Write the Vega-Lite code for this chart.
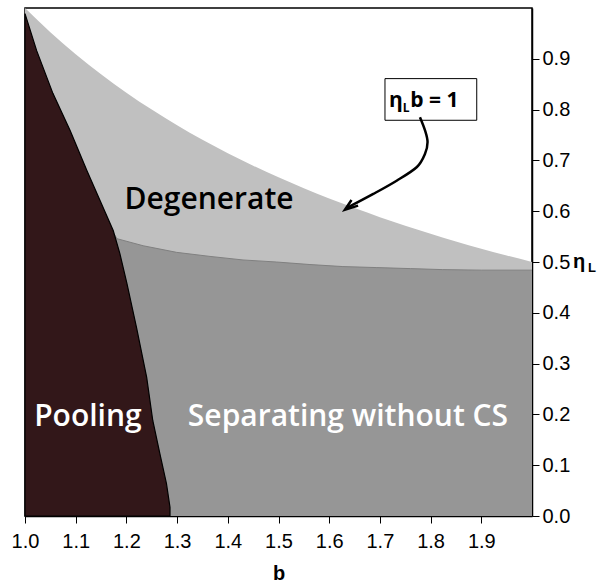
{
  "$schema": "https://vega.github.io/schema/vega-lite/v6.json",
  "width": 507,
  "height": 508,
  "autosize": "none",
  "padding": {"left": 25, "top": 8, "right": 68, "bottom": 69},
  "background": "white",
  "config": {"view": {"stroke": "black", "strokeWidth": 1.5}, "font": "Liberation Sans"},
  "datasets": {
    "upper": [
      {"b": 1.0, "eta": 1.0}, {"b": 1.05, "eta": 0.9524}, {"b": 1.1, "eta": 0.9091}, {"b": 1.15, "eta": 0.8696},
      {"b": 1.2, "eta": 0.8333}, {"b": 1.25, "eta": 0.8}, {"b": 1.3, "eta": 0.7692}, {"b": 1.35, "eta": 0.7407},
      {"b": 1.4, "eta": 0.7143}, {"b": 1.45, "eta": 0.6897}, {"b": 1.5, "eta": 0.6667}, {"b": 1.55, "eta": 0.6452},
      {"b": 1.6, "eta": 0.625}, {"b": 1.65, "eta": 0.6061}, {"b": 1.7, "eta": 0.5882}, {"b": 1.75, "eta": 0.5714},
      {"b": 1.8, "eta": 0.5556}, {"b": 1.85, "eta": 0.5405}, {"b": 1.9, "eta": 0.5263}, {"b": 1.95, "eta": 0.5128},
      {"b": 2.0, "eta": 0.5}
    ],
    "sep": [
      {"b": 1.0, "eta": 0.552}, {"b": 1.178, "eta": 0.552}, {"b": 1.181, "eta": 0.546}, {"b": 1.233, "eta": 0.532},
      {"b": 1.299, "eta": 0.519}, {"b": 1.365, "eta": 0.511}, {"b": 1.43, "eta": 0.504}, {"b": 1.496, "eta": 0.5},
      {"b": 1.562, "eta": 0.495}, {"b": 1.627, "eta": 0.491}, {"b": 1.694, "eta": 0.489}, {"b": 1.76, "eta": 0.487},
      {"b": 1.824, "eta": 0.485}, {"b": 1.9, "eta": 0.484}, {"b": 2.0, "eta": 0.484}
    ],
    "pool": [
      {"eta": 0.0, "b": 1.286}, {"eta": 0.017, "b": 1.286}, {"eta": 0.064, "b": 1.279}, {"eta": 0.123, "b": 1.266},
      {"eta": 0.188, "b": 1.252}, {"eta": 0.273, "b": 1.24}, {"eta": 0.371, "b": 1.22}, {"eta": 0.458, "b": 1.201},
      {"eta": 0.517, "b": 1.187}, {"eta": 0.562, "b": 1.174}, {"eta": 0.621, "b": 1.148}, {"eta": 0.68, "b": 1.122},
      {"eta": 0.759, "b": 1.089}, {"eta": 0.832, "b": 1.055}, {"eta": 0.916, "b": 1.023}, {"eta": 0.989, "b": 1.0}
    ],
    "arrow": [
      {"o": 0, "b": 1.779, "eta": 0.785}, {"o": 1, "b": 1.789, "eta": 0.759}, {"o": 2, "b": 1.794, "eta": 0.736},
      {"o": 3, "b": 1.789, "eta": 0.713}, {"o": 4, "b": 1.773, "eta": 0.687}, {"o": 5, "b": 1.733, "eta": 0.66},
      {"o": 6, "b": 1.687, "eta": 0.634}, {"o": 7, "b": 1.634, "eta": 0.606}
    ],
    "head": [
      {"o": 0, "b": 1.644, "eta": 0.622}, {"o": 1, "b": 1.631, "eta": 0.603}, {"o": 2, "b": 1.657, "eta": 0.611}
    ]
  },
  "layer": [
    {
      "data": {"name": "upper"},
      "mark": {"type": "area", "color": "#c0c0c0", "interpolate": "monotone"},
      "encoding": {
        "x": {
          "field": "b", "type": "quantitative",
          "scale": {"domain": [1, 2], "nice": false, "zero": false},
          "axis": {
            "values": [1.0, 1.05, 1.1, 1.15, 1.2, 1.25, 1.3, 1.35, 1.4, 1.45, 1.5, 1.55, 1.6, 1.65, 1.7, 1.75, 1.8, 1.85, 1.9, 1.95],
            "labelExpr": "round(datum.value*100) % 10 == 0 ? format(datum.value, '.1f') : ''",
            "grid": false, "tickSize": 7, "tickColor": "black", "tickWidth": 1,
            "domainColor": "black", "domainWidth": 1.5,
            "labelColor": "black", "labelFont": "Liberation Sans", "labelFontSize": 20,
            "labelPadding": 8, "labelFlush": false, "labelOverlap": false,
            "title": "b", "titleFont": "Liberation Sans", "titleFontSize": 20, "titleFontWeight": "bold",
            "titleColor": "black", "titlePadding": 12
          }
        },
        "y": {
          "field": "eta", "type": "quantitative",
          "scale": {"domain": [0, 1], "nice": false, "zero": false},
          "axis": {
            "orient": "right",
            "values": [0, 0.025, 0.05, 0.075, 0.1, 0.125, 0.15, 0.175, 0.2, 0.225, 0.25, 0.275, 0.3, 0.325, 0.35, 0.375, 0.4, 0.425, 0.45, 0.475, 0.5, 0.525, 0.55, 0.575, 0.6, 0.625, 0.65, 0.675, 0.7, 0.725, 0.75, 0.775, 0.8, 0.825, 0.85, 0.875, 0.9, 0.925, 0.95, 0.975],
            "labelExpr": "round(datum.value*1000) % 100 == 0 ? format(datum.value, '.1f') : ''",
            "grid": false, "tickSize": 7, "tickColor": "black", "tickWidth": 1,
            "domainColor": "black", "domainWidth": 1.5,
            "labelColor": "black", "labelFont": "Liberation Sans", "labelFontSize": 20,
            "labelPadding": 3, "labelFlush": false, "labelOverlap": false,
            "title": null
          }
        },
        "y2": {"datum": 0}
      }
    },
    {
      "data": {"name": "sep"},
      "mark": {"type": "area", "color": "#969696"},
      "encoding": {
        "x": {"field": "b", "type": "quantitative"},
        "y": {"field": "eta", "type": "quantitative"},
        "y2": {"datum": 0}
      }
    },
    {
      "data": {"name": "sep"},
      "mark": {"type": "line", "color": "#808080", "strokeWidth": 1},
      "encoding": {
        "x": {"field": "b", "type": "quantitative"},
        "y": {"field": "eta", "type": "quantitative"}
      }
    },
    {
      "data": {"name": "pool"},
      "mark": {"type": "area", "orient": "horizontal", "fill": "#321719", "stroke": "black", "strokeWidth": 1.2},
      "encoding": {
        "y": {"field": "eta", "type": "quantitative", "sort": null},
        "x": {"field": "b", "type": "quantitative"},
        "x2": {"datum": 1}
      }
    },
    {
      "data": {"values": [{}]},
      "mark": {"type": "rect", "fill": "white", "stroke": "black", "strokeWidth": 1},
      "encoding": {
        "x": {"datum": 1.71, "type": "quantitative"},
        "x2": {"datum": 1.891},
        "y": {"datum": 0.861, "type": "quantitative"},
        "y2": {"datum": 0.779}
      }
    },
    {
      "data": {"name": "arrow"},
      "mark": {"type": "line", "color": "black", "strokeWidth": 2.5, "interpolate": "cardinal"},
      "encoding": {
        "x": {"field": "b", "type": "quantitative"},
        "y": {"field": "eta", "type": "quantitative"},
        "order": {"field": "o"}
      }
    },
    {
      "data": {"name": "head"},
      "mark": {"type": "line", "color": "black", "strokeWidth": 2.5, "strokeJoin": "miter"},
      "encoding": {
        "x": {"field": "b", "type": "quantitative"},
        "y": {"field": "eta", "type": "quantitative"},
        "order": {"field": "o"}
      }
    },
    {
      "data": {"values": [{}]},
      "mark": {"type": "text", "text": "Degenerate", "font": "Open Sans", "fontWeight": 600, "fontSize": 30, "color": "black", "align": "center", "baseline": "alphabetic"},
      "encoding": {
        "x": {"datum": 1.363, "type": "quantitative"},
        "y": {"datum": 0.605, "type": "quantitative"}
      }
    },
    {
      "data": {"values": [{}]},
      "mark": {"type": "text", "text": "Pooling", "font": "Open Sans", "fontWeight": 600, "fontSize": 30, "color": "white", "align": "center", "baseline": "alphabetic"},
      "encoding": {
        "x": {"datum": 1.124, "type": "quantitative"},
        "y": {"datum": 0.178, "type": "quantitative"}
      }
    },
    {
      "data": {"values": [{}]},
      "mark": {"type": "text", "text": "Separating without CS", "font": "Open Sans", "fontWeight": 600, "fontSize": 30, "color": "white", "align": "center", "baseline": "alphabetic"},
      "encoding": {
        "x": {"datum": 1.637, "type": "quantitative"},
        "y": {"datum": 0.178, "type": "quantitative"}
      }
    },
    {
      "data": {"values": [{}]},
      "mark": {"type": "text", "text": "η", "font": "Open Sans", "fontWeight": "bold", "fontSize": 21, "color": "black", "align": "left", "baseline": "alphabetic"},
      "encoding": {
        "x": {"datum": 1.718, "type": "quantitative"},
        "y": {"datum": 0.806, "type": "quantitative"}
      }
    },
    {
      "data": {"values": [{}]},
      "mark": {"type": "text", "text": "L", "font": "Open Sans", "fontWeight": "bold", "fontSize": 12, "color": "black", "align": "left", "baseline": "alphabetic"},
      "encoding": {
        "x": {"datum": 1.745, "type": "quantitative"},
        "y": {"datum": 0.795, "type": "quantitative"}
      }
    },
    {
      "data": {"values": [{}]},
      "mark": {"type": "text", "text": "b = 1", "font": "Open Sans", "fontWeight": "bold", "fontSize": 21, "color": "black", "align": "left", "baseline": "alphabetic"},
      "encoding": {
        "x": {"datum": 1.76, "type": "quantitative"},
        "y": {"datum": 0.806, "type": "quantitative"}
      }
    },
    {
      "data": {"values": [{}]},
      "mark": {"type": "text", "text": "η", "font": "Liberation Sans", "fontWeight": "bold", "fontSize": 20, "color": "black", "align": "left", "baseline": "alphabetic", "dx": 41, "dy": 5.5},
      "encoding": {
        "x": {"datum": 2, "type": "quantitative"},
        "y": {"datum": 0.5, "type": "quantitative"}
      }
    },
    {
      "data": {"values": [{}]},
      "mark": {"type": "text", "text": "L", "font": "Liberation Sans", "fontWeight": "bold", "fontSize": 13, "color": "black", "align": "left", "baseline": "alphabetic", "dx": 56, "dy": 9.7},
      "encoding": {
        "x": {"datum": 2, "type": "quantitative"},
        "y": {"datum": 0.5, "type": "quantitative"}
      }
    }
  ]
}
